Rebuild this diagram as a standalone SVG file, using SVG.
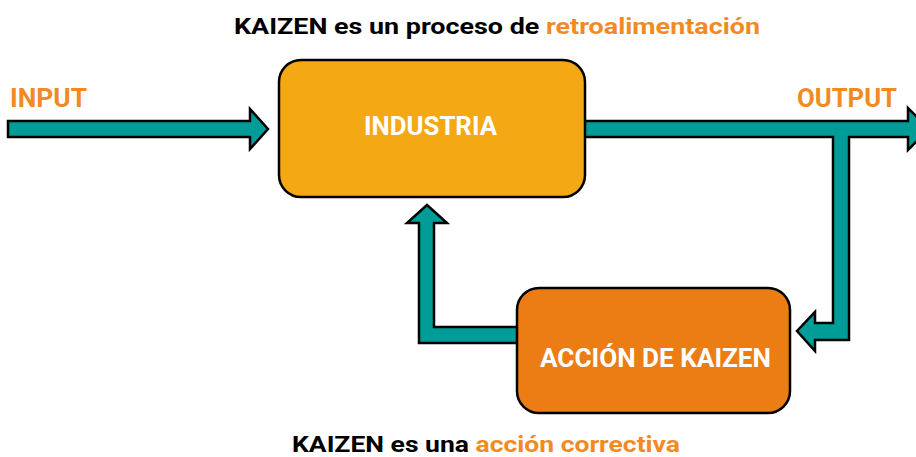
<svg xmlns="http://www.w3.org/2000/svg" width="916" height="457" viewBox="0 0 916 457">
<style>
.arrow{fill:#009C97;stroke:#000;stroke-width:2.5;stroke-linejoin:miter}
.box{stroke:#000;stroke-width:2.5}
.t{font-family:Roboto,"Liberation Sans",sans-serif;font-weight:bold;font-size:22px}
.b{font-size:26px}
.w{fill:#fff;text-anchor:middle}
.o{fill:#F28A24}
.k{fill:#000}
</style>
<rect width="916" height="457" fill="#fff"/>
<g id="connectors">
<polygon class="arrow" points="8,121 250,121 250,109 268,129 250,149 250,137 8,137"/>
<polygon class="arrow" points="580,121 908,121 908,108 929,129 908,150 908,137 849,137 849,340 815,340 815,351 797,331 815,312 815,323 833,323 833,137 580,137"/>
<polygon class="arrow" points="522,327 434,327 434,223 447,223 427,205 407,223 419,223 419,343 522,343"/>
</g>
<g id="industria">
<rect class="box" x="279" y="60" width="306" height="137" rx="22" fill="#F4A814"/>
<text class="t b w" x="430.5" y="135" textLength="133" lengthAdjust="spacingAndGlyphs">INDUSTRIA</text>
</g>
<g id="accion">
<rect class="box" x="517" y="288" width="273" height="125" rx="22" fill="#EC7D14"/>
<text class="t b w" x="655.5" y="367" textLength="231" lengthAdjust="spacingAndGlyphs">ACCIÓN DE KAIZEN</text>
</g>
<g id="labels">
<text class="t b o" x="10" y="107" textLength="77" lengthAdjust="spacingAndGlyphs">INPUT</text>
<text class="t b o" x="797" y="107" textLength="100" lengthAdjust="spacingAndGlyphs">OUTPUT</text>
<text class="t k" x="234" y="34" textLength="526" lengthAdjust="spacingAndGlyphs">KAIZEN es un proceso de <tspan class="o">retroalimentación</tspan></text>
<text class="t k" x="292" y="452" textLength="388" lengthAdjust="spacingAndGlyphs">KAIZEN es una <tspan class="o">acción correctiva</tspan></text>
</g>
</svg>
